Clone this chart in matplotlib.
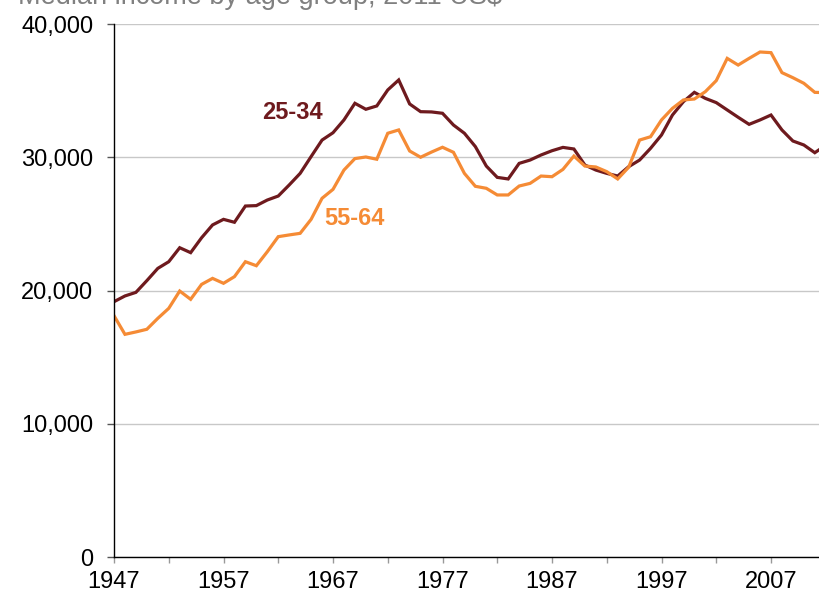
import matplotlib
matplotlib.use("Agg")
import matplotlib.pyplot as plt
from matplotlib.ticker import FuncFormatter, MultipleLocator

plt.rcParams["font.family"] = ["Liberation Sans", "DejaVu Sans"]

years = list(range(1947, 2013))

# median income, 2011 US$
age_25_34 = [
    19160, 19590, 19860, 20740, 21660, 22160, 23210, 22840, 23960, 24920,
    25340, 25120, 26340, 26370, 26790, 27090, 27920, 28790, 30050, 31290,
    31840, 32800, 34050, 33600, 33850, 35050, 35800, 34000, 33420, 33400,
    33300, 32420, 31800, 30800, 29340, 28490, 28370, 29540, 29790, 30170,
    30490, 30740, 30620, 29420, 29040, 28790, 28590, 29290, 29790, 30670,
    31670, 33170, 34170, 34870, 34420, 34100, 33550, 33000, 32470, 32800,
    33170, 32050, 31220, 30920, 30340, 30900,
]
age_55_64 = [
    18110, 16710, 16890, 17090, 17910, 18660, 19960, 19340, 20460, 20910,
    20540, 21040, 22160, 21860, 22910, 24040, 24170, 24290, 25340, 26920,
    27590, 29040, 29900, 30020, 29850, 31800, 32050, 30470, 30000, 30390,
    30750, 30370, 28790, 27820, 27670, 27170, 27170, 27840, 28040, 28590,
    28540, 29090, 30090, 29340, 29270, 28920, 28370, 29250, 31290, 31540,
    32800, 33670, 34300, 34370, 34920, 35750, 37420, 36920, 37420, 37900,
    37850, 36350, 35970, 35550, 34870, 34850,
]

label_names = ["25-34", "55-64"]
colors = ["#6E1A1E", "#F58B35"]

fig = plt.figure(figsize=(8.2, 5.95), dpi=100)
ax = fig.add_axes([114 / 820, 38 / 595, 706 / 820, 533 / 595])

ax.plot(years, age_25_34, color=colors[0], lw=2.3, solid_joinstyle="miter")
ax.plot(years, age_55_64, color=colors[1], lw=2.3, solid_joinstyle="miter")

# inline series labels
ax.text(1963.3, 33350, label_names[0], color=colors[0], fontsize=17,
        fontweight="bold", ha="center", va="center")
ax.text(1969.0, 25370, label_names[1], color=colors[1], fontsize=17,
        fontweight="bold", ha="center", va="center")

ax.set_xlim(1947, 1947 + 706 / 10.95)
ax.set_ylim(0, 40000)

ax.xaxis.set_major_locator(MultipleLocator(10, offset=7))
ax.xaxis.set_minor_locator(MultipleLocator(5, offset=2))
ax.yaxis.set_major_locator(MultipleLocator(10000))
ax.yaxis.set_major_formatter(FuncFormatter(lambda v, p: f"{int(v):,}"))

ax.grid(axis="y", color="#C8C8C8", lw=1.0)
ax.set_axisbelow(True)

for s in ("top", "right"):
    ax.spines[s].set_visible(False)
ax.spines["left"].set_color("black")
ax.spines["bottom"].set_color("black")
ax.spines["left"].set_linewidth(1.0)
ax.spines["bottom"].set_linewidth(1.0)

ax.tick_params(axis="y", direction="out", length=5, width=1, color="#555555",
               labelsize=17, pad=10)
ax.tick_params(axis="x", which="both", direction="out", length=4, width=1,
               color="#999999", labelsize=17, pad=6)

fig.text(18 / 820, 1 - 4.5 / 595, "Median income by age group, 2011 US$",
         color="#808080", fontsize=19.5, ha="left", va="baseline")

fig.savefig("out.png", dpi=100)
